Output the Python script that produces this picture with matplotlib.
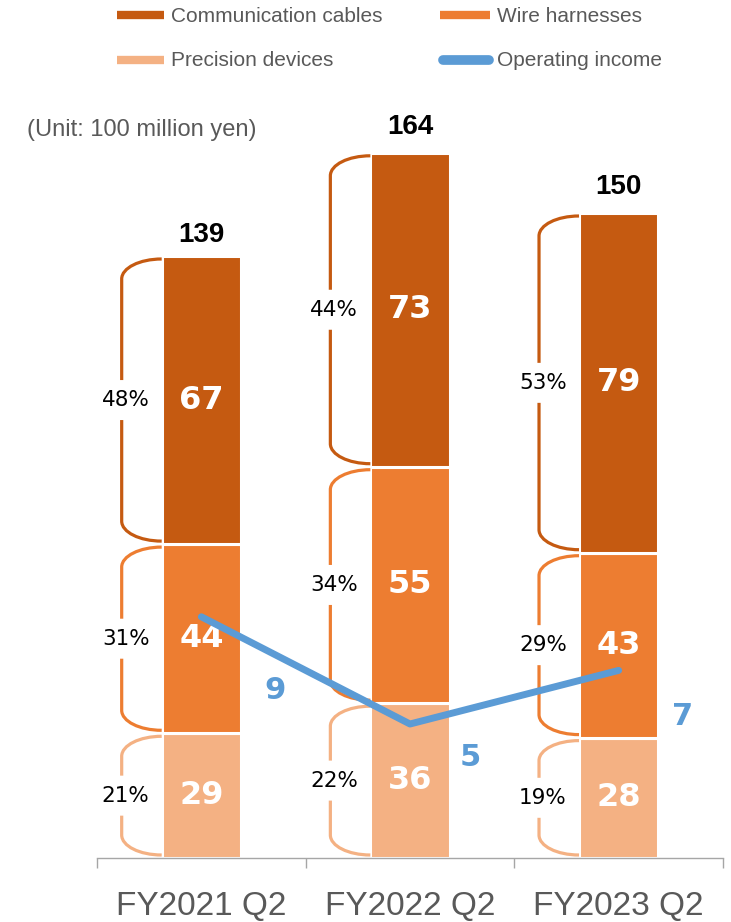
import matplotlib
matplotlib.use("Agg")
import matplotlib.pyplot as plt
from matplotlib.path import Path
from matplotlib.patches import PathPatch
from matplotlib.lines import Line2D

# ---------------- data ----------------
categories = ["FY2021 Q2", "FY2022 Q2", "FY2023 Q2"]
precision = [29, 36, 28]
wire = [44, 55, 43]
comm = [67, 73, 79]
totals = [139, 164, 150]
precision_pct = ["21%", "22%", "19%"]
wire_pct = ["31%", "34%", "29%"]
comm_pct = ["48%", "44%", "53%"]
op_income = [9, 5, 7]
legend_labels = ["Communication cables", "Wire harnesses", "Precision devices", "Operating income"]
unit_text = "(Unit: 100 million yen)"

# ---------------- style ----------------
C_COMM = "#C55A11"
C_WIRE = "#ED7D31"
C_PREC = "#F4B183"
C_BLUE = "#5B9BD5"
GRAY = "#595959"

W, H = 731, 922
fig = plt.figure(figsize=(W / 100, H / 100), dpi=100)
ax = fig.add_axes([97 / W, 64 / H, 626 / W, 858 / H])
PX_Y = 4.30
PX_X = 626 / 3
ax.set_ylim(0, 858 / PX_Y)
ax.set_xlim(-0.5, 2.5)

bw = 0.38
x = list(range(len(categories)))
bottoms_wire = precision
bottoms_comm = [p + w for p, w in zip(precision, wire)]

ax.bar(x, precision, bw, color=C_PREC, edgecolor="white", linewidth=2.2, zorder=2)
ax.bar(x, wire, bw, bottom=bottoms_wire, color=C_WIRE, edgecolor="white", linewidth=2.2, zorder=2)
ax.bar(x, comm, bw, bottom=bottoms_comm, color=C_COMM, edgecolor="white", linewidth=2.2, zorder=2)

VAL_FONT = dict(family="DejaVu Sans", fontweight="bold", fontsize=23, color="white")
PCT_FONT = dict(family="DejaVu Sans", fontsize=15.5, color="black")


def bracket(xc, y0, y1, color, pct):
    bl = xc - bw / 2
    rx = 40 / PX_X
    ry = 20 / PX_Y
    inset = 3 / PX_Y
    top = y1 - inset
    bot = y0 + inset
    xl = bl - rx
    ymid = (y0 + y1) / 2
    gap = 20 / PX_Y
    k = 0.5523
    verts = [
        (bl, top), (bl - k * rx, top), (xl, top - ry + k * ry), (xl, top - ry),
        (xl, ymid + gap),
        (xl, ymid - gap), (xl, bot + ry),
        (xl, bot + ry - k * ry), (bl - k * rx, bot), (bl, bot),
    ]
    codes = [Path.MOVETO, Path.CURVE4, Path.CURVE4, Path.CURVE4, Path.LINETO,
             Path.MOVETO, Path.LINETO, Path.CURVE4, Path.CURVE4, Path.CURVE4]
    ax.add_patch(PathPatch(Path(verts, codes), fill=False, edgecolor=color,
                           linewidth=2.3, capstyle="butt", zorder=3))
    ax.text(bl - 36 / PX_X, ymid, pct, ha="center", va="center", zorder=4, **PCT_FONT)


for i in x:
    segs = [
        (0, precision[i], C_PREC, precision_pct[i]),
        (bottoms_wire[i], bottoms_wire[i] + wire[i], C_WIRE, wire_pct[i]),
        (bottoms_comm[i], bottoms_comm[i] + comm[i], C_COMM, comm_pct[i]),
    ]
    vals = [precision[i], wire[i], comm[i]]
    for (y0, y1, c, p), v in zip(segs, vals):
        bracket(i, y0, y1, c, p)
        ax.text(i, (y0 + y1) / 2, str(v), ha="center", va="center", zorder=5, **VAL_FONT)
    ax.annotate(str(totals[i]), (i, totals[i]), xytext=(0, 9), textcoords="offset points",
                ha="center", va="bottom", fontsize=20, fontweight="bold",
                family="Liberation Sans", color="black")

# operating income on secondary axis
ax2 = ax.twinx()
ax2.set_ylim(0, 858 / 26.8)
ax2.plot(x, op_income, color=C_BLUE, linewidth=5, solid_capstyle="round", zorder=6)
label_offsets = [(74, -74), (60, -34), (64, -46)]
for i, v in enumerate(op_income):
    ax2.annotate(str(v), (i, v), xytext=label_offsets[i], textcoords="offset pixels",
                 ha="center", va="center", fontsize=22, fontweight="bold",
                 family="DejaVu Sans", color=C_BLUE)
ax2.axis("off")

# axes styling
for s in ["top", "left", "right"]:
    ax.spines[s].set_visible(False)
ax.spines["bottom"].set_color("#A6A6A6")
ax.spines["bottom"].set_linewidth(1.0)
ax.set_yticks([])
ax.set_xticks(x)
ax.set_xticklabels(categories, fontsize=24, family="Liberation Sans", color=GRAY)
ax.tick_params(axis="x", which="major", length=0, pad=24)
ax.set_xticks([-0.5, 0.5, 1.5, 2.5], minor=True)
ax.tick_params(axis="x", which="minor", length=7.5, width=1.0, color="#A6A6A6")

# legend (manual layout)
def fx(px):
    return px / W


def fy(py):
    return 1 - py / H


leg_items = [
    (117, 164, 15, C_COMM, 6, "butt", legend_labels[0], 171),
    (440, 490, 15, C_WIRE, 6, "butt", legend_labels[1], 497),
    (117, 164, 60, C_PREC, 6, "butt", legend_labels[2], 171),
    (443, 489, 60, C_BLUE, 7, "round", legend_labels[3], 497),
]
for x0, x1, yy, c, lw, cap, lab, tx in leg_items:
    fig.add_artist(Line2D([fx(x0), fx(x1)], [fy(yy), fy(yy)], color=c, linewidth=lw,
                          solid_capstyle=cap, transform=fig.transFigure))
    fig.text(fx(tx), fy(yy + 1), lab, ha="left", va="center", fontsize=15,
             family="Liberation Sans", color=GRAY)

fig.text(fx(27), fy(130), unit_text, ha="left", va="center", fontsize=17,
         family="Liberation Sans", color=GRAY)

fig.savefig("out.png", dpi=100)
